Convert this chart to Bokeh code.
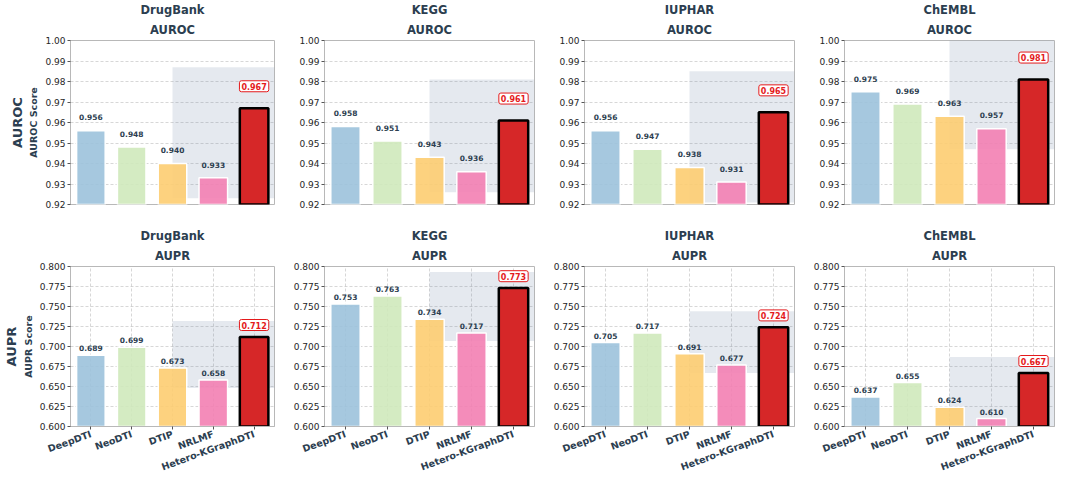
from math import pi

from bokeh.core.properties import value
from bokeh.embed import file_html
from bokeh.layouts import gridplot
from bokeh.models import ColumnDataSource, FixedTicker, NumeralTickFormatter, Range1d, Title
from bokeh.plotting import figure
from bokeh.resources import INLINE

methods = ["DeepDTI", "NeoDTI", "DTIP", "NRLMF", "Hetero-KGraphDTI"]
datasets = ["DrugBank", "KEGG", "IUPHAR", "ChEMBL"]

auroc_drugbank = [0.956, 0.948, 0.940, 0.933, 0.967]
auroc_kegg = [0.958, 0.951, 0.943, 0.936, 0.961]
auroc_iuphar = [0.956, 0.947, 0.938, 0.931, 0.965]
auroc_chembl = [0.975, 0.969, 0.963, 0.957, 0.981]

aupr_drugbank = [0.689, 0.699, 0.673, 0.658, 0.712]
aupr_kegg = [0.753, 0.763, 0.734, 0.717, 0.773]
aupr_iuphar = [0.705, 0.717, 0.691, 0.677, 0.724]
aupr_chembl = [0.637, 0.655, 0.624, 0.610, 0.667]

auroc_ticks = [0.92, 0.93, 0.94, 0.95, 0.96, 0.97, 0.98, 0.99, 1.00]
aupr_ticks = [0.600, 0.625, 0.650, 0.675, 0.700, 0.725, 0.750, 0.775, 0.800]

bar_colors = ["#9cc2db", "#cfe9bb", "#fdcd71", "#f37fb2", "#d62728"]
FONT = "DejaVu Sans"
DARK = "#2c3e50"

col_left = [64, 40, 40, 40]
col_right = [10, 10, 10, 2]
frame_w = 210
frame_h = [170, 174]


def make_panel(col, dataset, metric, vals, ticks, fmt, bottom_row):
    top_border = 34
    bottom_border = 46 if bottom_row else 22
    fh = frame_h[1] if bottom_row else frame_h[0]
    p = figure(width=col_left[col] + frame_w + col_right[col],
               height=top_border + fh + bottom_border,
               min_border_left=col_left[col], min_border_right=col_right[col],
               min_border_top=top_border, min_border_bottom=bottom_border,
               x_range=Range1d(-0.5, len(methods) - 0.5),
               y_range=Range1d(ticks[0], ticks[-1]),
               output_backend="svg", toolbar_location=None)

    p.add_layout(Title(text=metric, align="center", text_font=FONT, text_font_size="11.5px",
                       text_font_style="bold", text_color=DARK, standoff=8, offset=0), "above")
    p.add_layout(Title(text=dataset, align="center", text_font=FONT, text_font_size="11.5px",
                       text_font_style="bold", text_color=DARK, standoff=0, offset=0), "above")

    xs = list(range(len(methods)))
    src = ColumnDataSource(data=dict(
        x=xs[:-1], top=vals[:-1], color=bar_colors[:-1],
        ly=[v + 0.005 for v in vals[:-1]], label=["%.3f" % v for v in vals[:-1]]))
    best = ColumnDataSource(data=dict(
        x=xs[-1:], top=vals[-1:], ly=[vals[-1] + 0.008], label=["%.3f" % vals[-1]]))

    # highlighted region behind the last bars
    p.quad(left=[len(methods) - 3], right=[len(methods) - 0.5],
           bottom=[min(vals) - 0.01], top=[max(vals) + 0.02],
           fill_color="#6f86a8", fill_alpha=0.18, line_color=None)

    p.vbar(x="x", top="top", bottom=0, width=0.7, source=src, fill_color="color",
           fill_alpha=0.9, line_color="white", line_width=1.5)
    p.vbar(x="x", top="top", bottom=0, width=0.7, source=best, fill_color=bar_colors[-1],
           line_color="black", line_width=2.5)

    p.text(x="x", y="ly", text="label", source=src, text_font=value(FONT),
           text_font_size="7.5px", text_font_style="bold", text_color=DARK,
           text_align="center", text_baseline="bottom")
    p.text(x="x", y="ly", text="label", source=best, text_font=value(FONT),
           text_font_size="8px", text_font_style="bold", text_color="#e41a1c",
           text_align="center", text_baseline="bottom",
           background_fill_color="white", border_line_color="#e41a1c",
           border_line_width=1, border_radius=2, padding=2)

    p.yaxis.ticker = FixedTicker(ticks=ticks)
    p.yaxis.formatter = NumeralTickFormatter(format=fmt)
    p.xaxis.ticker = FixedTicker(ticks=xs)
    p.xaxis.major_label_overrides = {i: m for i, m in enumerate(methods)}

    p.axis.minor_tick_line_color = None
    p.axis.major_tick_in = 0
    p.axis.major_tick_out = 3
    p.axis.major_tick_line_color = "#555555"
    p.axis.axis_line_color = "#b8b8b8"
    p.axis.major_label_text_font = FONT
    p.axis.major_label_text_font_size = "9px"
    p.axis.major_label_text_color = "#262626"
    p.axis.major_label_standoff = 2
    p.outline_line_color = "#b8b8b8"

    p.ygrid.grid_line_dash = "3 2"
    p.ygrid.grid_line_color = "#b0b0b0"
    p.ygrid.grid_line_alpha = 0.5
    if bottom_row:
        p.xgrid.grid_line_dash = "3 2"
        p.xgrid.grid_line_color = "#b0b0b0"
        p.xgrid.grid_line_alpha = 0.5
        p.xaxis.major_label_orientation = 20 * pi / 180
        p.xaxis.major_label_text_font_size = "9.5px"
        p.xaxis.major_label_text_font_style = "bold"
        p.xaxis.major_label_text_color = DARK
        p.xaxis.major_label_standoff = 4
    else:
        p.xgrid.visible = False
        p.xaxis.visible = False

    if col == 0:
        p.yaxis.axis_label = metric + " Score"
        p.yaxis.axis_label_text_font = FONT
        p.yaxis.axis_label_text_font_size = "9.5px"
        p.yaxis.axis_label_text_font_style = "bold"
        p.yaxis.axis_label_text_color = DARK
        p.yaxis.axis_label_standoff = 3
        p.add_layout(Title(text=metric, align="center", text_font=FONT, text_font_size="13px",
                           text_font_style="bold", text_color=DARK, standoff=2, offset=0), "left")
    return p


auroc_rows = [auroc_drugbank, auroc_kegg, auroc_iuphar, auroc_chembl]
aupr_rows = [aupr_drugbank, aupr_kegg, aupr_iuphar, aupr_chembl]

figs = []
for c, (ds, vals) in enumerate(zip(datasets, auroc_rows)):
    figs.append(make_panel(c, ds, "AUROC", vals, auroc_ticks, "0.00", False))
for c, (ds, vals) in enumerate(zip(datasets, aupr_rows)):
    figs.append(make_panel(c, ds, "AUPR", vals, aupr_ticks, "0.000", True))

p = gridplot(figs, ncols=4, toolbar_location=None)

open("out.html", "w").write(file_html(p, INLINE))
